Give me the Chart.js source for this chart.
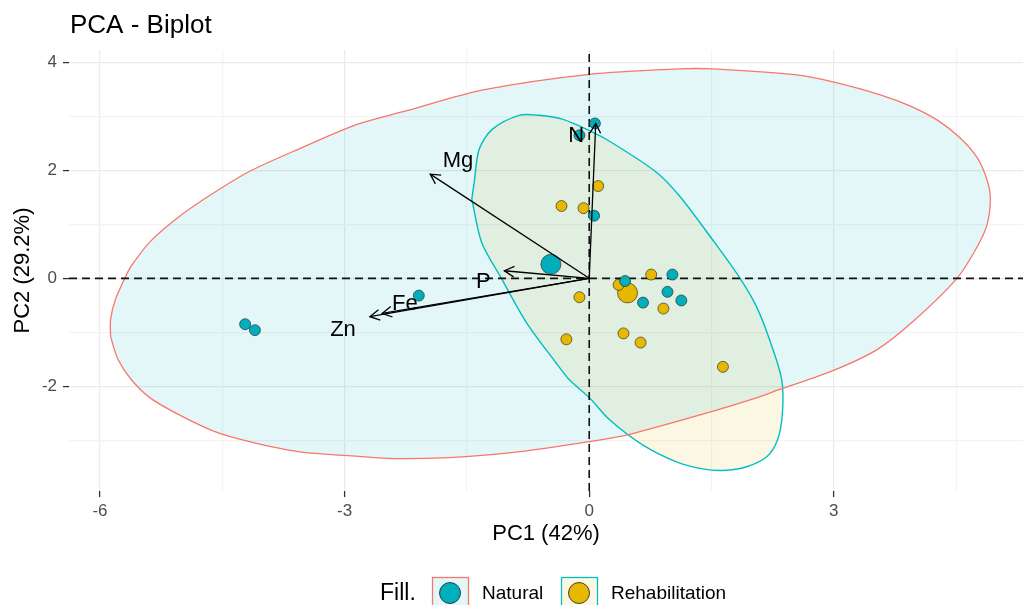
<!DOCTYPE html>
<html>
<head>
<meta charset="utf-8">
<script src="https://cdn.jsdelivr.net/npm/chart.js@4.4.0/dist/chart.umd.min.js"></script>
<style>
  html, body { margin: 0; padding: 0; background: #fff; }
</style>
</head>
<body>
<canvas id="biplot" width="1023" height="605"></canvas>
<script>
// axis ticks (minor ones get a grid line but no label)
const xTicks = [-6, -4.5, -3, -1.5, 0, 1.5, 3, 4.5];
const xLabelled = [-6, -3, 0, 3];
const yTicks = [-3, -2, -1, 0, 1, 2, 3, 4];
const yLabelled = [-2, 0, 2, 4];

// individuals
const naturalX = [0.07, -0.12, 0.06, 0.44, 1.02, 0.96, 0.66, 1.13, -2.09, -4.22, -4.10];
const naturalY = [2.87, 2.65, 1.16, -0.05, 0.07, -0.25, -0.45, -0.41, -0.32, -0.85, -0.96];
const rehabX = [-0.34, -0.07, 0.11, 0.76, 0.36, -0.12, 0.91, 0.42, 0.63, -0.28, 1.64];
const rehabY = [1.34, 1.30, 1.71, 0.07, -0.12, -0.35, -0.56, -1.02, -1.19, -1.13, -1.64];
const centroidX = [-0.47, 0.47];
const centroidY = [0.26, -0.27];

// variable loadings
const varNames = ['N', 'Mg', 'P', 'Fe', 'Zn'];
const varX = [0.08, -1.95, -1.04, -2.54, -2.69];
const varY = [2.87, 1.93, 0.14, -0.65, -0.71];
const labelX = [-0.16, -1.61, -1.30, -2.26, -3.02];
const labelY = [2.64, 2.17, -0.07, -0.47, -0.95];

// concentration ellipses
const natEllX = [-5.87, -5.87, -5.81, -5.69, -5.62, -5.39, -5.04, -4.67, -4.18, -3.57, -2.83, -2.25, -1.30, 0, 1.11, 1.51, 2.55, 2.99, 3.57, 3.94, 4.27, 4.55, 4.76, 4.88, 4.92, 4.88, 4.76, 4.51, 3.97, 3.53, 2.99, 2.37, 2.00, 1.50, 0.52, 0.02, -0.96, -1.72, -2.40, -2.83, -3.57, -4.18, -4.59, -5.04, -5.39, -5.62, -5.78];
const natEllY = [-1.08, -0.76, -0.39, 0.02, 0.22, 0.67, 1.13, 1.52, 1.97, 2.39, 2.86, 3.10, 3.49, 3.78, 3.88, 3.88, 3.77, 3.64, 3.40, 3.19, 2.93, 2.60, 2.23, 1.82, 1.47, 1.00, 0.59, 0, -0.80, -1.32, -1.71, -2.04, -2.24, -2.47, -2.88, -3.02, -3.23, -3.32, -3.34, -3.30, -3.21, -3.02, -2.84, -2.52, -2.21, -1.87, -1.50];
const rehEllX = [-1.44, -1.41, -1.35, -1.19, -0.86, -0.62, -0.33, 0.04, 0.25, 0.82, 1.11, 1.51, 1.85, 2.05, 2.21, 2.36, 2.37, 2.31, 2.18, 1.93, 1.64, 1.39, 1.07, 0.65, 0.25, 0, -0.25, -0.41, -0.77, -1.07, -1.32];
const rehEllY = [1.47, 1.78, 2.39, 2.76, 3.02, 3.02, 2.95, 2.71, 2.54, 1.97, 1.52, 0.72, 0, -0.52, -1.13, -1.87, -2.49, -2.99, -3.30, -3.49, -3.56, -3.53, -3.40, -3.08, -2.62, -2.21, -1.87, -1.56, -0.82, -0.02, 0.67];

const TEAL = '#00AFBB';
const GOLD = '#E7B800';
const FONT = '"Liberation Sans", Arial, sans-serif';

const pts = (xs, ys) => xs.map((v, i) => ({ x: v, y: ys[i] }));
const closed = (xs, ys) => { const p = pts(xs, ys); p.push(p[0]); return p; };

const xMin = -6.38, xMax = 5.32, yMin = -3.94, yMax = 4.23;

const datasets = [];

// arrows (drawn on top)
varNames.forEach((n, i) => {
    datasets.push({
        label: n,
        data: [{ x: 0, y: 0 }, { x: varX[i], y: varY[i] }],
        borderColor: '#000',
        borderWidth: 1.3,
        pointRadius: 0,
        fill: false,
        order: 1
    });
});

datasets.push({
    label: 'Natural',
    data: pts(naturalX, naturalY),
    showLine: false,
    pointRadius: 5.5,
    pointBackgroundColor: TEAL,
    pointBorderColor: '#1a1a1a',
    pointBorderWidth: 0.6,
    order: 2
});
datasets.push({
    label: 'Rehabilitation',
    data: pts(rehabX, rehabY),
    showLine: false,
    pointRadius: 5.5,
    pointBackgroundColor: GOLD,
    pointBorderColor: '#1a1a1a',
    pointBorderWidth: 0.6,
    order: 2
});
datasets.push({
    label: 'centroids',
    data: pts(centroidX, centroidY),
    showLine: false,
    pointRadius: 10,
    pointBackgroundColor: [TEAL, GOLD],
    pointBorderColor: '#1a1a1a',
    pointBorderWidth: 0.6,
    order: 2
});

// zero reference lines
datasets.push({
    label: 'h0',
    data: [{ x: xMin, y: 0 }, { x: xMax, y: 0 }],
    borderColor: '#111',
    borderWidth: 1.6,
    borderDash: [8, 5],
    pointRadius: 0,
    order: 3
});
datasets.push({
    label: 'v0',
    data: [{ x: 0, y: yMin }, { x: 0, y: yMax }],
    borderColor: '#111',
    borderWidth: 1.6,
    borderDash: [8, 5],
    pointRadius: 0,
    order: 3
});

datasets.push({
    label: 'ellNatural',
    data: closed(natEllX, natEllY),
    borderColor: '#F8766D',
    borderWidth: 1.3,
    backgroundColor: 'rgba(0,175,187,0.11)',
    fill: 'shape',
    tension: 0.3,
    pointRadius: 0,
    order: 4
});
datasets.push({
    label: 'ellRehab',
    data: closed(rehEllX, rehEllY),
    borderColor: '#00BFC4',
    borderWidth: 1.4,
    backgroundColor: 'rgba(231,184,0,0.11)',
    fill: 'shape',
    tension: 0.3,
    pointRadius: 0,
    order: 4
});

const overlay = {
    id: 'overlay',
    afterDatasetsDraw(chart) {
        const { ctx, scales: { x, y } } = chart;
        const x0 = x.getPixelForValue(0), y0 = y.getPixelForValue(0);
        ctx.save();
        ctx.strokeStyle = '#000';
        ctx.lineWidth = 1.3;
        varNames.forEach((n, i) => {
            const x1 = x.getPixelForValue(varX[i]), y1 = y.getPixelForValue(varY[i]);
            const a = Math.atan2(y1 - y0, x1 - x0);
            ctx.beginPath();
            ctx.moveTo(x1 - 11 * Math.cos(a - 0.5), y1 - 11 * Math.sin(a - 0.5));
            ctx.lineTo(x1, y1);
            ctx.lineTo(x1 - 11 * Math.cos(a + 0.5), y1 - 11 * Math.sin(a + 0.5));
            ctx.stroke();
        });
        ctx.fillStyle = '#000';
        ctx.font = '22px ' + FONT;
        ctx.textAlign = 'center';
        ctx.textBaseline = 'middle';
        varNames.forEach((n, i) => {
            ctx.fillText(n, x.getPixelForValue(labelX[i]), y.getPixelForValue(labelY[i]));
        });
        ctx.restore();
    },
    afterDraw(chart) {
        const { ctx, chartArea } = chart;
        ctx.save();
        ctx.fillStyle = '#000';
        ctx.textBaseline = 'alphabetic';
        ctx.textAlign = 'left';
        ctx.font = '26px ' + FONT;
        ctx.fillText('PCA - Biplot', chartArea.left + 1, 33);

        // legend
        const cx = (chartArea.left + chartArea.right) / 2;
        const ly = 594;
        ctx.textBaseline = 'middle';
        ctx.font = '23px ' + FONT;
        ctx.fillText('Fill.', cx - 166, ly);
        const keys = [
            { label: 'Natural', fill: 'rgba(0,175,187,0.11)', edge: '#F8766D', dot: TEAL, at: cx - 114 },
            { label: 'Rehabilitation', fill: 'rgba(231,184,0,0.11)', edge: '#00BFC4', dot: GOLD, at: cx + 15 }
        ];
        keys.forEach(k => {
            ctx.fillStyle = k.fill;
            ctx.fillRect(k.at, 577, 36, 40);
            ctx.strokeStyle = k.edge;
            ctx.lineWidth = 1.3;
            ctx.strokeRect(k.at + 0.5, 577.5, 36, 40);
            ctx.beginPath();
            ctx.arc(k.at + 18, ly - 1, 10.5, 0, Math.PI * 2);
            ctx.fillStyle = k.dot;
            ctx.fill();
            ctx.strokeStyle = '#1a1a1a';
            ctx.lineWidth = 0.8;
            ctx.stroke();
            ctx.fillStyle = '#000';
            ctx.font = '19px ' + FONT;
            ctx.fillText(k.label, k.at + 50, ly);
        });
        ctx.restore();
    }
};

const gridColor = (labelled) => (c) => labelled.includes(c.tick.value) ? '#EBEBEB' : '#F3F3F3';
const tickColor = (labelled) => (c) => labelled.includes(c.tick.value) ? '#333' : 'rgba(0,0,0,0)';

new Chart(document.getElementById('biplot'), {
    type: 'line',
    data: { datasets: datasets },
    options: {
        responsive: false,
        animation: false,
        layout: { autoPadding: false, padding: { top: 50, left: 0, right: 0, bottom: 0 } },
        plugins: {
            legend: { display: false },
            tooltip: { enabled: false }
        },
        scales: {
            x: {
                type: 'linear',
                min: xMin,
                max: xMax,
                afterBuildTicks: (axis) => { axis.ticks = xTicks.map(v => ({ value: v })); },
                afterFit: (scale) => { scale.height = 114; },
                border: { display: false },
                grid: {
                    color: gridColor(xLabelled),
                    lineWidth: 1.2,
                    tickColor: tickColor(xLabelled),
                    tickLength: 6,
                    tickWidth: 1.3
                },
                ticks: {
                    autoSkip: false,
                    maxRotation: 0,
                    padding: 4,
                    color: '#4D4D4D',
                    font: { family: FONT, size: 17 },
                    callback: (v) => xLabelled.includes(v) ? String(v) : ''
                },
                title: {
                    display: true,
                    text: 'PC1 (42%)',
                    color: '#000',
                    font: { family: FONT, size: 22 },
                    padding: { top: 0, bottom: 58 }
                }
            },
            y: {
                type: 'linear',
                min: yMin,
                max: yMax,
                afterBuildTicks: (axis) => { axis.ticks = yTicks.map(v => ({ value: v })); },
                afterFit: (scale) => { scale.width = 69; },
                border: { display: false },
                grid: {
                    color: gridColor(yLabelled),
                    lineWidth: 1.2,
                    tickColor: tickColor(yLabelled),
                    tickLength: 6,
                    tickWidth: 1.3
                },
                ticks: {
                    autoSkip: false,
                    padding: 6,
                    color: '#4D4D4D',
                    font: { family: FONT, size: 17 },
                    callback: (v) => yLabelled.includes(v) ? String(v) : ''
                },
                title: {
                    display: true,
                    text: 'PC2 (29.2%)',
                    color: '#000',
                    font: { family: FONT, size: 22 },
                    padding: { top: 10, bottom: 0 }
                }
            }
        }
    },
    plugins: [overlay]
});
</script>
</body>
</html>
